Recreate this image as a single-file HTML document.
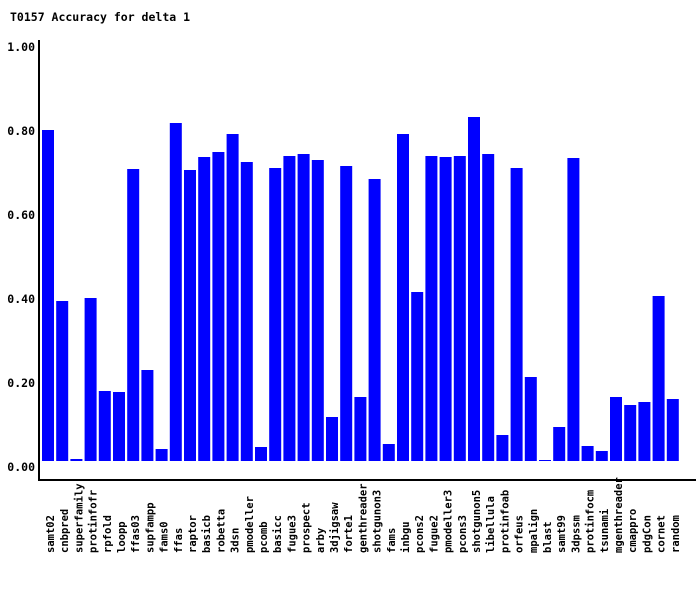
<!DOCTYPE html>
<html><head><style>
body{margin:0;background:#fff;}
text{font-family:"DejaVu Sans Mono","Liberation Mono",monospace;font-weight:bold;font-size:10.5px;fill:#000;}
</style></head><body>
<svg width="700" height="590" xmlns="http://www.w3.org/2000/svg">
<rect width="700" height="590" fill="#fff"/>
<text x="10" y="21" style="font-size:11.5px">T0157 Accuracy for delta 1</text>
<g text-anchor="end">
<text x="35" y="51" style="font-size:11.5px">1.00</text>
<text x="35" y="135" style="font-size:11.5px">0.80</text>
<text x="35" y="219" style="font-size:11.5px">0.60</text>
<text x="35" y="303" style="font-size:11.5px">0.40</text>
<text x="35" y="387" style="font-size:11.5px">0.20</text>
<text x="35" y="471" style="font-size:11.5px">0.00</text>
</g>
<rect x="38" y="40" width="2" height="441" fill="#000"/>
<rect x="38" y="479" width="658" height="2" fill="#000"/>
<g id="bars" fill="#0000ff"></g>
<g id="labels"></g>
</svg>
<script>
(function(){
var names=["samt02","cnbpred","superfamily","protinfofr","rpfold","loopp","ffas03","supfampp","fams0","ffas","raptor","basicb","robetta","3dsn","pmodeller","pcomb","basicc","fugue3","prospect","arby","3djigsaw","forte1","genthreader","shotgunon3","fams","inbgu","pcons2","fugue2","pmodeller3","pcons3","shotgunon5","libellula","protinfoab","orfeus","mpalign","blast","samt99","3dpssm","protinfocm","tsunami","mgenthreader","cmappro","pdgCon","cornet","random"];
var tops=[130,301,459,298,391,392,169,370,449,123,170,157,152,134,162,447,168,156,154,160,417,166,397,179,444,134,292,156,157,156,117,154,435,168,377,460,427,158,446,451,397,405,402,296,399];
var ns="http://www.w3.org/2000/svg";
var b=document.getElementById("bars"),l=document.getElementById("labels");
for(var i=0;i<names.length;i++){
 var x=42+i*14.2;
 var r=document.createElementNS(ns,"rect");
 r.setAttribute("x",x.toFixed(1));r.setAttribute("width","12");
 r.setAttribute("y",tops[i]);r.setAttribute("height",461-tops[i]);
 b.appendChild(r);
 var t=document.createElementNS(ns,"text");
 var cx=x+12;
 t.setAttribute("transform","translate("+cx.toFixed(1)+",553) rotate(-90)");
 t.textContent=names[i];
 l.appendChild(t);
}
})();
</script>
</body></html>
